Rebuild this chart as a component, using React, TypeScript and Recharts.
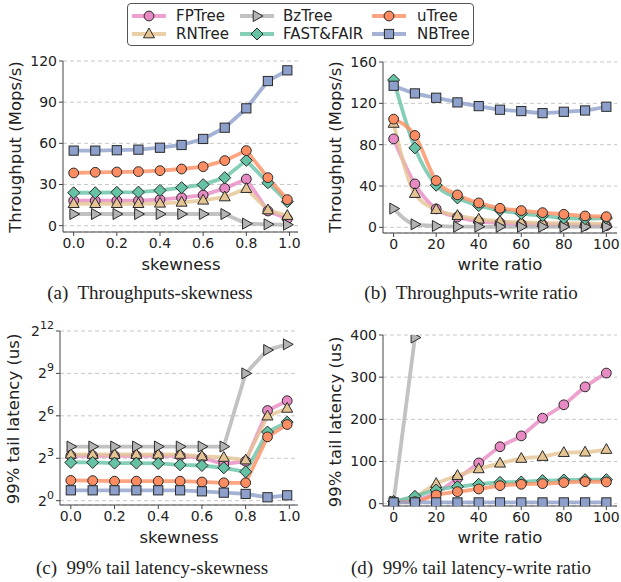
import React from 'react';
import { LineChart, Line, XAxis, YAxis, CartesianGrid } from 'recharts';

// x categories
const skewness = [0, 0.1, 0.2, 0.3, 0.4, 0.5, 0.6, 0.7, 0.8, 0.9, 0.99];
const writeRatio = [0, 10, 20, 30, 40, 50, 60, 70, 80, 90, 100];

// (a) throughput vs skewness (Mops/s)
const tsFPTree = [18.2, 18.2, 18.2, 18.2, 19, 20.4, 22.3, 27.2, 34, 10.7, 5];
const tsRNTree = [16, 16, 16, 16, 16.3, 17, 18.5, 20.9, 27, 11.4, 7.3];
const tsBzTree = [8.5, 8.5, 8.5, 8.5, 8.5, 8.5, 8.5, 8.5, 1.5, 1, 0.7];
const tsFastFair = [24, 24, 24.3, 24.5, 25.7, 27.7, 29.9, 35, 47.6, 31.3, 17.5];
const tsUTree = [38.4, 38.9, 39.1, 39.4, 40.1, 41.3, 43, 47.4, 54.7, 35, 19];
const tsNBTree = [54.7, 54.7, 55, 55.4, 56.8, 58.8, 63.2, 71.4, 85.5, 105.4, 113.2];

// (b) throughput vs write ratio (Mops/s)
const twFPTree = [85.6, 42, 17.8, 10, 5.8, 4.2, 3.2, 2.6, 2.3, 1.9, 1.6];
const twRNTree = [100.5, 32.6, 17.1, 11.3, 7.8, 5.8, 4.8, 4.2, 3.9, 3.6, 3.2];
const twBzTree = [18.1, 2.9, 1.3, 0.6, 0.6, 0.5, 0.5, 0.5, 0.5, 0.5, 0.5];
const twFastFair = [142.5, 76.9, 40.7, 28.4, 21, 16.5, 13.3, 11.3, 9, 8.4, 9];
const twUTree = [104.7, 88.9, 45.2, 31.4, 23.6, 18.4, 16.2, 14.2, 12.6, 11, 10.3];
const twNBTree = [137, 129.6, 125.4, 120.9, 117.3, 113.8, 112.5, 110.5, 111.8, 113.1, 116.7];

// (c) 99% tail latency vs skewness (us)
const lsFPTree = [9, 9, 9, 9, 9, 9, 8.2, 6, 6.9, 83, 134];
const lsRNTree = [9.7, 9.6, 9.6, 9.6, 9.6, 9.6, 8.8, 8.3, 7.3, 63, 92];
const lsBzTree = [14.2, 14.2, 14.2, 14.2, 14.2, 14.2, 14.2, 14.2, 512, 1610, 2130];
const lsFastFair = [6.5, 6.5, 6.3, 6.3, 6.2, 5.8, 5.6, 5, 4.1, 29, 47];
const lsUTree = [2.7, 2.67, 2.6, 2.6, 2.6, 2.6, 2.5, 2.4, 2.4, 22.8, 41.8];
const lsNBTree = [1.66, 1.66, 1.66, 1.66, 1.66, 1.66, 1.58, 1.48, 1.39, 1.18, 1.3];

// (d) 99% tail latency vs write ratio (us)
const lwFPTree = [4.8, 8, 26, 60, 96.6, 135, 160.8, 202.8, 234.5, 277, 309.7];
const lwRNTree = [5, 16, 47.5, 66.5, 82.4, 95.8, 107, 111.7, 121, 122, 128.3];
const lwBzTree = [5, 394, null, null, null, null, null, null, null, null, null];
const lwFastFair = [4.8, 17.4, 32.5, 40.4, 46, 50.7, 51.5, 54.7, 56.2, 57, 57];
const lwUTree = [3.2, 4.8, 20.6, 28.5, 34.9, 42.8, 46, 47.5, 50, 52.3, 51.5];
const lwNBTree = [3, 3, 3, 3, 3, 3, 3, 3, 3, 3, 3];

const skewTicks = [0, 0.2, 0.4, 0.6, 0.8, 1.0];
const ratioTicks = [0, 20, 40, 60, 80, 100];
const tsTicks = [0, 30, 60, 90, 120];
const twTicks = [0, 40, 80, 120, 160];
const lsTicks = [1, 8, 64, 512, 4096];
const lwTicks = [0, 100, 200, 300, 400];

type Shape = 'circle' | 'triUp' | 'triRight' | 'diamond' | 'square';

const SERIES: { key: string; color: string; shape: Shape }[] = [
  { key: 'FPTree', color: '#e78ac3', shape: 'circle' },
  { key: 'RNTree', color: '#e5c494', shape: 'triUp' },
  { key: 'BzTree', color: '#b3b3b3', shape: 'triRight' },
  { key: 'FAST&FAIR', color: '#66c2a5', shape: 'diamond' },
  { key: 'uTree', color: '#fc8d62', shape: 'circle' },
  { key: 'NBTree', color: '#8da0cb', shape: 'square' },
];

function rows(xs: number[], cols: (number | null)[][]) {
  return xs.map((x, i) => {
    const r: any = { x };
    SERIES.forEach((s, j) => {
      r[s.key] = cols[j][i];
    });
    return r;
  });
}

const dataA = rows(skewness, [tsFPTree, tsRNTree, tsBzTree, tsFastFair, tsUTree, tsNBTree]);
const dataB = rows(writeRatio, [twFPTree, twRNTree, twBzTree, twFastFair, twUTree, twNBTree]);
const dataC = rows(skewness, [lsFPTree, lsRNTree, lsBzTree, lsFastFair, lsUTree, lsNBTree]);
const dataD = rows(writeRatio, [lwFPTree, lwRNTree, lwBzTree, lwFastFair, lwUTree, lwNBTree]);

const EDGE = '#2a2a2a';
const AXIS = '#444';
const TEXT = '#222';
const SANS = '"DejaVu Sans", sans-serif';
const SERIF = '"Liberation Serif", "DejaVu Serif", serif';

function Marker({ cx, cy, shape, color }: { cx: number; cy: number; shape: Shape; color: string }) {
  const p = { fill: color, stroke: EDGE, strokeWidth: 1 };
  if (shape === 'circle') return <circle cx={cx} cy={cy} r={4.9} {...p} />;
  if (shape === 'square') return <rect x={cx - 4.6} y={cy - 4.6} width={9.2} height={9.2} {...p} />;
  if (shape === 'diamond')
    return <polygon points={`${cx},${cy - 6} ${cx + 6},${cy} ${cx},${cy + 6} ${cx - 6},${cy}`} {...p} />;
  if (shape === 'triUp')
    return <polygon points={`${cx},${cy - 6} ${cx + 5.5},${cy + 3.8} ${cx - 5.5},${cy + 3.8}`} {...p} />;
  return <polygon points={`${cx + 6},${cy} ${cx - 3.8},${cy - 5.5} ${cx - 3.8},${cy + 5.5}`} {...p} />;
}

const Pow2Tick = (props: any) => {
  const { x, y, payload } = props;
  const e = Math.round(Math.log2(payload.value));
  return (
    <text x={x} y={y} dy={5} textAnchor="end" fill={TEXT} fontSize={14} fontFamily={SANS}>
      <tspan>2</tspan>
      <tspan dy={-7} fontSize={11}>{e}</tspan>
    </text>
  );
};

interface PanelProps {
  data: any[];
  width: number;
  height: number;
  margin: { top: number; right: number; bottom: number; left: number };
  yWidth: number;
  xDomain: [number, number];
  xTicks: number[];
  xFmt: (v: number) => string;
  yDomain: [number, number];
  yTicks: number[];
  log?: boolean;
  curve: 'linear' | 'monotone';
}

const Panel = (p: PanelProps) => (
  <LineChart width={p.width} height={p.height} data={p.data} margin={p.margin}>
    <CartesianGrid vertical={false} stroke="#c8c8c8" strokeDasharray="4 3" />
    <XAxis
      dataKey="x"
      type="number"
      domain={p.xDomain}
      ticks={p.xTicks}
      tickFormatter={p.xFmt}
      allowDataOverflow
      height={20}
      tickSize={4}
      tickMargin={2}
      stroke={AXIS}
      tick={{ fill: TEXT, fontSize: 14, fontFamily: SANS }}
    />
    <XAxis xAxisId="top" orientation="top" height={0} tick={false} tickLine={false} stroke={AXIS} />
    <YAxis
      type="number"
      domain={p.yDomain}
      ticks={p.yTicks}
      scale={p.log ? 'log' : 'auto'}
      allowDataOverflow
      width={p.yWidth}
      tickSize={4}
      tickMargin={2}
      stroke={AXIS}
      tick={p.log ? <Pow2Tick /> : { fill: TEXT, fontSize: 14, fontFamily: SANS }}
    />
    <YAxis yAxisId="right" orientation="right" width={0} tick={false} tickLine={false} stroke={AXIS} />
    {SERIES.map((s) => (
      <Line
        key={s.key}
        dataKey={s.key}
        type={p.curve}
        stroke={s.color}
        strokeWidth={3.8}
        strokeOpacity={0.8}
        isAnimationActive={false}
        activeDot={false}
        dot={(d: any) =>
          d.cy == null || d.cx == null ? (
            <g key={`${s.key}-${d.index}`} />
          ) : (
            <Marker key={`${s.key}-${d.index}`} cx={d.cx} cy={d.cy} shape={s.shape} color={s.color} />
          )
        }
      />
    ))}
  </LineChart>
);

const abs = (left: number, top: number): React.CSSProperties => ({ position: 'absolute', left, top });

const YTitle = ({ text, cx, cy }: { text: string; cx: number; cy: number }) => (
  <div
    style={{
      position: 'absolute',
      left: cx,
      top: cy,
      transform: 'translate(-50%, -50%) rotate(-90deg)',
      whiteSpace: 'nowrap',
      fontFamily: SANS,
      fontSize: 16.5,
      color: TEXT,
      lineHeight: 1,
    }}
  >
    {text}
  </div>
);

const Centered = ({ text, cx, cy, serif }: { text: string; cx: number; cy: number; serif?: boolean }) => (
  <div
    style={{
      position: 'absolute',
      left: cx,
      top: cy,
      transform: 'translate(-50%, -50%)',
      whiteSpace: 'pre',
      fontFamily: serif ? SERIF : SANS,
      fontSize: serif ? 19 : 16.5,
      color: TEXT,
      lineHeight: 1,
    }}
  >
    {text}
  </div>
);

const LegendIcon = ({ color, shape }: { color: string; shape: Shape }) => (
  <svg width={34} height={14} style={{ display: 'block' }}>
    <line x1={0} y1={7} x2={34} y2={7} stroke={color} strokeWidth={3.8} strokeOpacity={0.8} />
    <Marker cx={17} cy={7} shape={shape} color={color} />
  </svg>
);

const legendCols = [
  [132, 176],
  [240, 283],
  [372, 417],
];
const legendRows = [15.5, 33.5];

const Legend = () => (
  <>
    <div
      style={{
        position: 'absolute',
        left: 127,
        top: 3,
        width: 347,
        height: 43,
        border: '1px solid #555',
        borderRadius: 4,
        boxSizing: 'border-box',
        background: '#fff',
      }}
    />
    {SERIES.map((s, i) => {
      const col = legendCols[Math.floor(i / 2)];
      const y = legendRows[i % 2];
      return (
        <React.Fragment key={s.key}>
          <div style={abs(col[0], y - 7)}>
            <LegendIcon color={s.color} shape={s.shape} />
          </div>
          <div
            style={{
              ...abs(col[1], y - 8),
              fontFamily: SANS,
              fontSize: 15,
              lineHeight: '16px',
              color: TEXT,
              whiteSpace: 'nowrap',
            }}
          >
            {s.key}
          </div>
        </React.Fragment>
      );
    })}
  </>
);

const fmtSkew = (v: number) => v.toFixed(1);
const fmtInt = (v: number) => String(v);

export default function App() {
  return (
    <div
      style={{
        position: 'absolute',
        left: 0,
        top: 0,
        width: 621,
        height: 582,
        background: '#fff',
        overflow: 'hidden',
      }}
    >
      <Legend />

      <div style={abs(0, 50)}>
        <Panel
          data={dataA}
          width={310}
          height={205}
          margin={{ top: 11, right: 12, bottom: 3, left: 0 }}
          yWidth={63}
          xDomain={[-0.0495, 1.0395]}
          xTicks={skewTicks}
          xFmt={fmtSkew}
          yDomain={[-4.6, 120]}
          yTicks={tsTicks}
          curve="linear"
        />
      </div>
      <div style={abs(310, 50)}>
        <Panel
          data={dataB}
          width={311}
          height={205}
          margin={{ top: 12, right: 4, bottom: 2, left: 0 }}
          yWidth={73}
          xDomain={[-5, 105]}
          xTicks={ratioTicks}
          xFmt={fmtInt}
          yDomain={[-5.5, 160]}
          yTicks={twTicks}
          curve="monotone"
        />
      </div>
      <div style={abs(0, 320)}>
        <Panel
          data={dataC}
          width={310}
          height={210}
          margin={{ top: 11, right: 12, bottom: 5, left: 0 }}
          yWidth={60}
          xDomain={[-0.0495, 1.0395]}
          xTicks={skewTicks}
          xFmt={fmtSkew}
          yDomain={[0.808, 4096]}
          yTicks={lsTicks}
          log
          curve="linear"
        />
      </div>
      <div style={abs(310, 320)}>
        <Panel
          data={dataD}
          width={311}
          height={210}
          margin={{ top: 15, right: 4, bottom: 4, left: 0 }}
          yWidth={73}
          xDomain={[-5, 105]}
          xTicks={ratioTicks}
          xFmt={fmtInt}
          yDomain={[-5.5, 400]}
          yTicks={lwTicks}
          curve="monotone"
        />
      </div>

      <YTitle text="Throughput (Mops/s)" cx={16} cy={147} />
      <YTitle text="Throughput (Mops/s)" cx={336} cy={147} />
      <YTitle text="99% tail latency (us)" cx={14} cy={419} />
      <YTitle text="99% tail latency (us)" cx={336} cy={422} />

      <Centered text="skewness" cx={181} cy={265} />
      <Centered text="write ratio" cx={500} cy={265} />
      <Centered text="skewness" cx={179} cy={538} />
      <Centered text="write ratio" cx={500} cy={538} />

      <Centered text={'(a)  Throughputs-skewness'} cx={150} cy={292} serif />
      <Centered text={'(b)  Throughputs-write ratio'} cx={471} cy={292} serif />
      <Centered text={'(c)  99% tail latency-skewness'} cx={152} cy={567} serif />
      <Centered text={'(d)  99% tail latency-write ratio'} cx={471} cy={567} serif />
    </div>
  );
}
